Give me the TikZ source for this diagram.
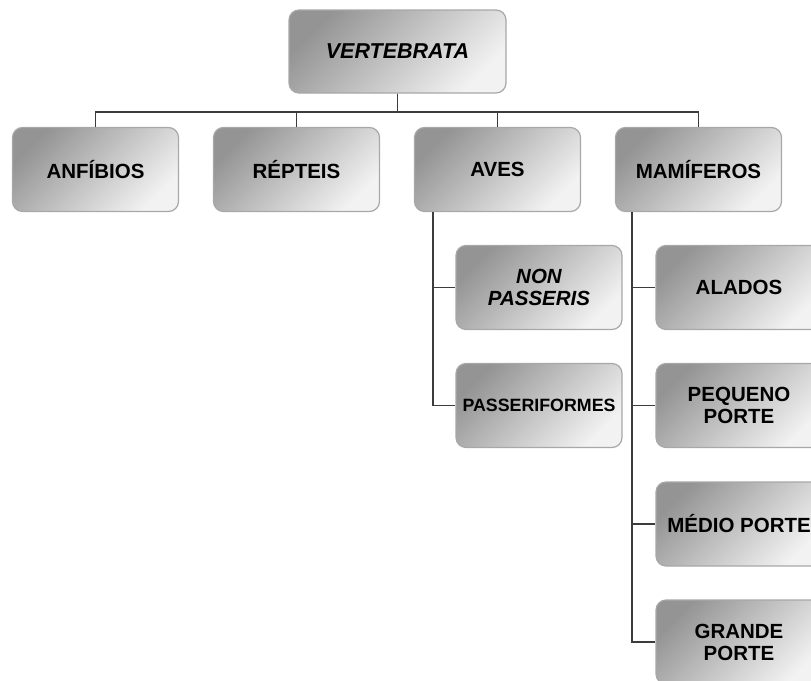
\documentclass[tikz,border=0pt]{standalone}
\usepackage{fontspec}
\setmainfont{Liberation Sans}
\usetikzlibrary{positioning}
\definecolor{boxdark}{RGB}{148,148,148}
\definecolor{boxlight}{RGB}{242,242,242}
\definecolor{boxedge}{RGB}{168,168,168}
\definecolor{linkcol}{RGB}{60,60,60}
\tikzset{
  taxon/.style={draw=boxedge, line width=1.2pt, rounded corners=10pt,
    shading=axis, top color=boxdark, bottom color=boxlight, shading angle=45,
    minimum width=166pt, minimum height=84pt, align=center, inner sep=2pt,
    font=\fontsize{20.5}{22}\selectfont\bfseries},
  link/.style={draw=linkcol, line width=1.4pt}
}
\begin{document}
\begin{tikzpicture}[x=1pt, y=-1pt]
  \useasboundingbox (0,0) rectangle (811,680);
  \fill[white] (0,0) rectangle (811,680);

  % root and first level
  \node[taxon, minimum width=217pt, minimum height=83pt,
        font=\fontsize{21.5}{23}\selectfont\bfseries\itshape] (vert) at (397.5,51.5) {VERTEBRATA};
  \node[taxon] (anf) at (95.5,169.5) {ANFÍBIOS};
  \node[taxon] (rep) at (296.5,169.5) {RÉPTEIS};
  \node[taxon] (aves) at (497.5,169.5) {AVES};
  \node[taxon] (mam) at (698.5,169.5) {MAMÍFEROS};

  % birds
  \node[taxon, font=\fontsize{20.5}{22}\selectfont\bfseries\itshape] (non) at (539,287.5) {NON\\PASSERIS};
  \node[taxon, font=\fontsize{17.8}{20}\selectfont\bfseries] (pass) at (539,405.5) {PASSERIFORMES};

  % mammals
  \node[taxon] (ala) at (739,287.5) {ALADOS};
  \node[taxon] (peq) at (739,405.5) {PEQUENO\\PORTE};
  \node[taxon] (med) at (739,524) {MÉDIO PORTE};
  \node[taxon] (gra) at (739,642) {GRANDE\\PORTE};

  % connectors from the root
  \foreach \c in {anf,rep,aves,mam}
    \draw[link] (vert.south) -- ++(0,18.5) -| (\c.north);

  % side rails for the second level
  \coordinate (avesrail) at ([xshift=19pt]aves.south west);
  \coordinate (mamrail) at ([xshift=17pt]mam.south west);
  \foreach \c in {non,pass}
    \draw[link] (avesrail) |- (\c.west);
  \foreach \c in {ala,peq,med,gra}
    \draw[link] (mamrail) |- (\c.west);
\end{tikzpicture}
\end{document}
